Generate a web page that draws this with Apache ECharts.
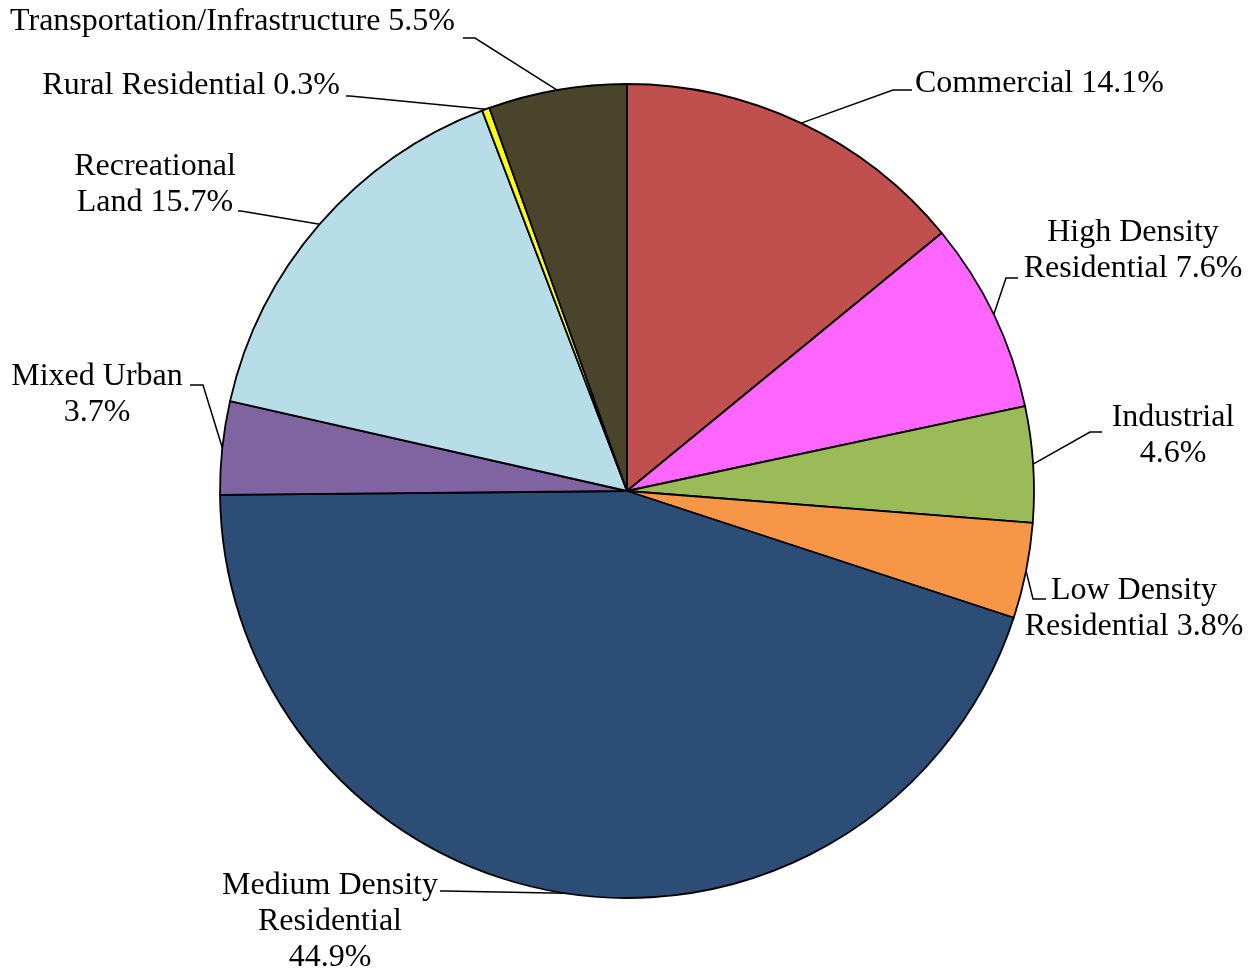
<!DOCTYPE html>
<html>
<head>
<meta charset="utf-8">
<script src="https://cdn.jsdelivr.net/npm/echarts@6/dist/echarts.min.js"></script>
<style>
  html, body { margin: 0; padding: 0; background: #fff; }
  #chart { width: 1255px; height: 974px; }
</style>
</head>
<body>
<div id="chart"></div>
<script>
// 数据
var categories = ['Commercial', 'High Density Residential', 'Industrial', 'Low Density Residential',
    'Medium Density Residential', 'Mixed Urban', 'Recreational Land', 'Rural Residential',
    'Transportation/Infrastructure'];
var shares = [14.1, 7.6, 4.6, 3.8, 44.9, 3.7, 15.7, 0.3, 5.5];
var labelTexts = [
    'Commercial 14.1%',
    'High Density\nResidential 7.6%',
    'Industrial\n4.6%',
    'Low Density\nResidential 3.8%',
    'Medium Density\nResidential\n44.9%',
    'Mixed Urban\n3.7%',
    'Recreational\nLand 15.7%',
    'Rural Residential 0.3%',
    'Transportation/Infrastructure 5.5%'
];
var colors = ['#C0504D', '#FF66FF', '#9BBB59', '#F79646', '#2C4D75', '#8064A2', '#B7DEE8', '#FFFF00', '#4A452A'];

// 标签位置 (x, y, 对齐, 引线中点, 引线终点)
var labelPos = [
    { x: 915, y: 84, align: 'left', mid: [893, 90], end: [912, 90] },
    { x: 1133, y: 251, align: 'center', mid: [1006, 278], end: [1018, 278] },
    { x: 1173, y: 436, align: 'center', mid: [1090, 432], end: [1102, 432] },
    { x: 1134, y: 609, align: 'center', mid: [1033, 599], end: [1046, 599] },
    { x: 330, y: 922, align: 'center', mid: [445, 891], end: [440, 891] },
    { x: 97, y: 395, align: 'center', mid: [203, 385], end: [190, 385] },
    { x: 155, y: 185, align: 'center', mid: [241, 211], end: [238, 211] },
    { x: 340, y: 86, align: 'right', mid: [350, 96], end: [346, 96] },
    { x: 455, y: 22, align: 'right', mid: [475, 38], end: [463, 38] }
];

var pieData = categories.map(function (name, i) {
    return { name: name, value: shares[i], itemStyle: { color: colors[i] } };
});

var option = {
    animation: false,
    backgroundColor: '#fff',
    series: [
        {
            type: 'pie',
            center: [627, 491],
            radius: 407,
            startAngle: 90,
            clockwise: true,
            avoidLabelOverlap: false,
            itemStyle: { borderColor: '#000', borderWidth: 1.8 },
            label: {
                show: true,
                position: 'outside',
                formatter: function (p) { return labelTexts[p.dataIndex]; },
                fontFamily: 'Liberation Serif',
                fontSize: 32,
                lineHeight: 36,
                color: '#000'
            },
            labelLine: {
                show: true,
                smooth: false,
                lineStyle: { color: '#000', width: 1.5 }
            },
            emphasis: { disabled: true },
            labelLayout: function (params) {
                var pos = labelPos[params.dataIndex];
                var start = params.labelLinePoints ? params.labelLinePoints[0] : pos.mid;
                return {
                    x: pos.x,
                    y: pos.y,
                    align: pos.align,
                    verticalAlign: 'middle',
                    labelLinePoints: [start, pos.mid, pos.end]
                };
            },
            data: pieData
        }
    ]
};

var myChart = echarts.init(document.getElementById('chart'));
myChart.setOption(option);
</script>
</body>
</html>
